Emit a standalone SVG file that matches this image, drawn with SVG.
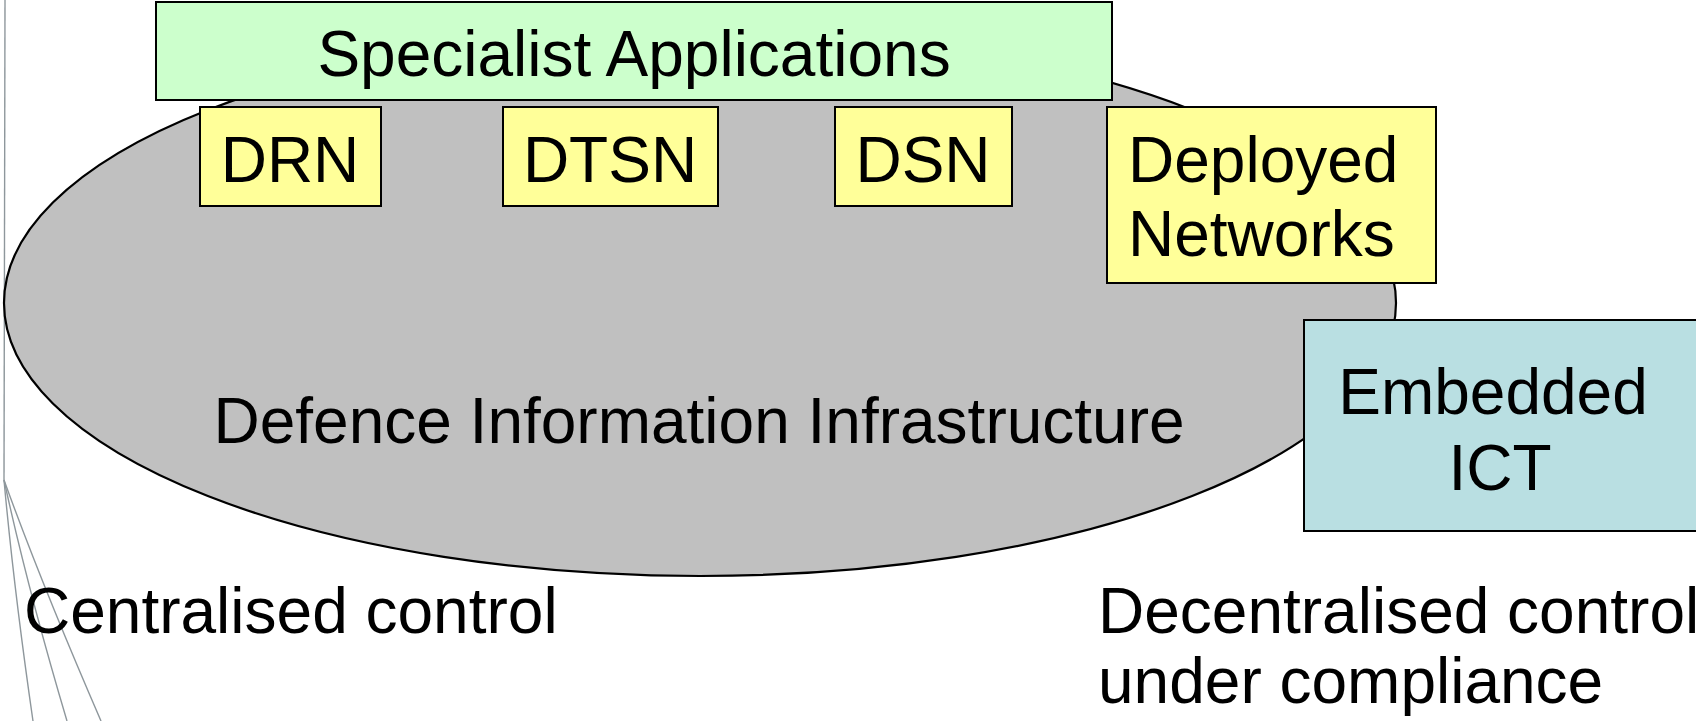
<svg xmlns="http://www.w3.org/2000/svg" width="1696" height="721" viewBox="0 0 1696 721">
<style>
text{font-family:"Liberation Sans",Arial,sans-serif;fill:#000;font-size:64px}
.box{stroke:#000;stroke-width:2}
.wire{fill:none;stroke:#8E979C;stroke-width:1.4}
</style>
<rect width="1696" height="721" fill="#fff"/>
<g id="connectors">
<path class="wire" d="M5 0 L4 480" stroke-width="2"/>
<path class="wire" d="M4 480 Q14 590 33 721"/>
<path class="wire" d="M4 480 Q28 590 67 721"/>
<path class="wire" d="M4 480 Q42 585 101 721"/>
</g>
<g id="dii">
<ellipse cx="700" cy="303" rx="696" ry="273" fill="#C0C0C0" stroke="#000" stroke-width="2.2"/>
<text x="699" y="443" text-anchor="middle">Defence Information Infrastructure</text>
</g>
<g id="specialist">
<rect class="box" x="156" y="2" width="956" height="98" fill="#CCFFCC"/>
<text x="634" y="76" text-anchor="middle" font-size="63">Specialist Applications</text>
</g>
<g id="drn">
<rect class="box" x="200" y="107" width="181" height="99" fill="#FFFF99"/>
<text x="290" y="182" text-anchor="middle">DRN</text>
</g>
<g id="dtsn">
<rect class="box" x="503" y="107" width="215" height="99" fill="#FFFF99"/>
<text x="610" y="182" text-anchor="middle">DTSN</text>
</g>
<g id="dsn">
<rect class="box" x="835" y="107" width="177" height="99" fill="#FFFF99"/>
<text x="923" y="182" text-anchor="middle">DSN</text>
</g>
<g id="deployed">
<rect class="box" x="1107" y="107" width="329" height="176" fill="#FFFF99"/>
<text x="1128" y="182">Deployed</text>
<text x="1128" y="256">Networks</text>
</g>
<g id="embedded">
<rect class="box" x="1304" y="320" width="400" height="211" fill="#B9DFE2"/>
<text x="1493" y="414" text-anchor="middle">Embedded</text>
<text x="1500" y="490" text-anchor="middle">ICT</text>
</g>
<g id="labels">
<text x="24" y="633">Centralised control</text>
<text x="1098" y="633">Decentralised control</text>
<text x="1098" y="703">under compliance</text>
</g>
</svg>
